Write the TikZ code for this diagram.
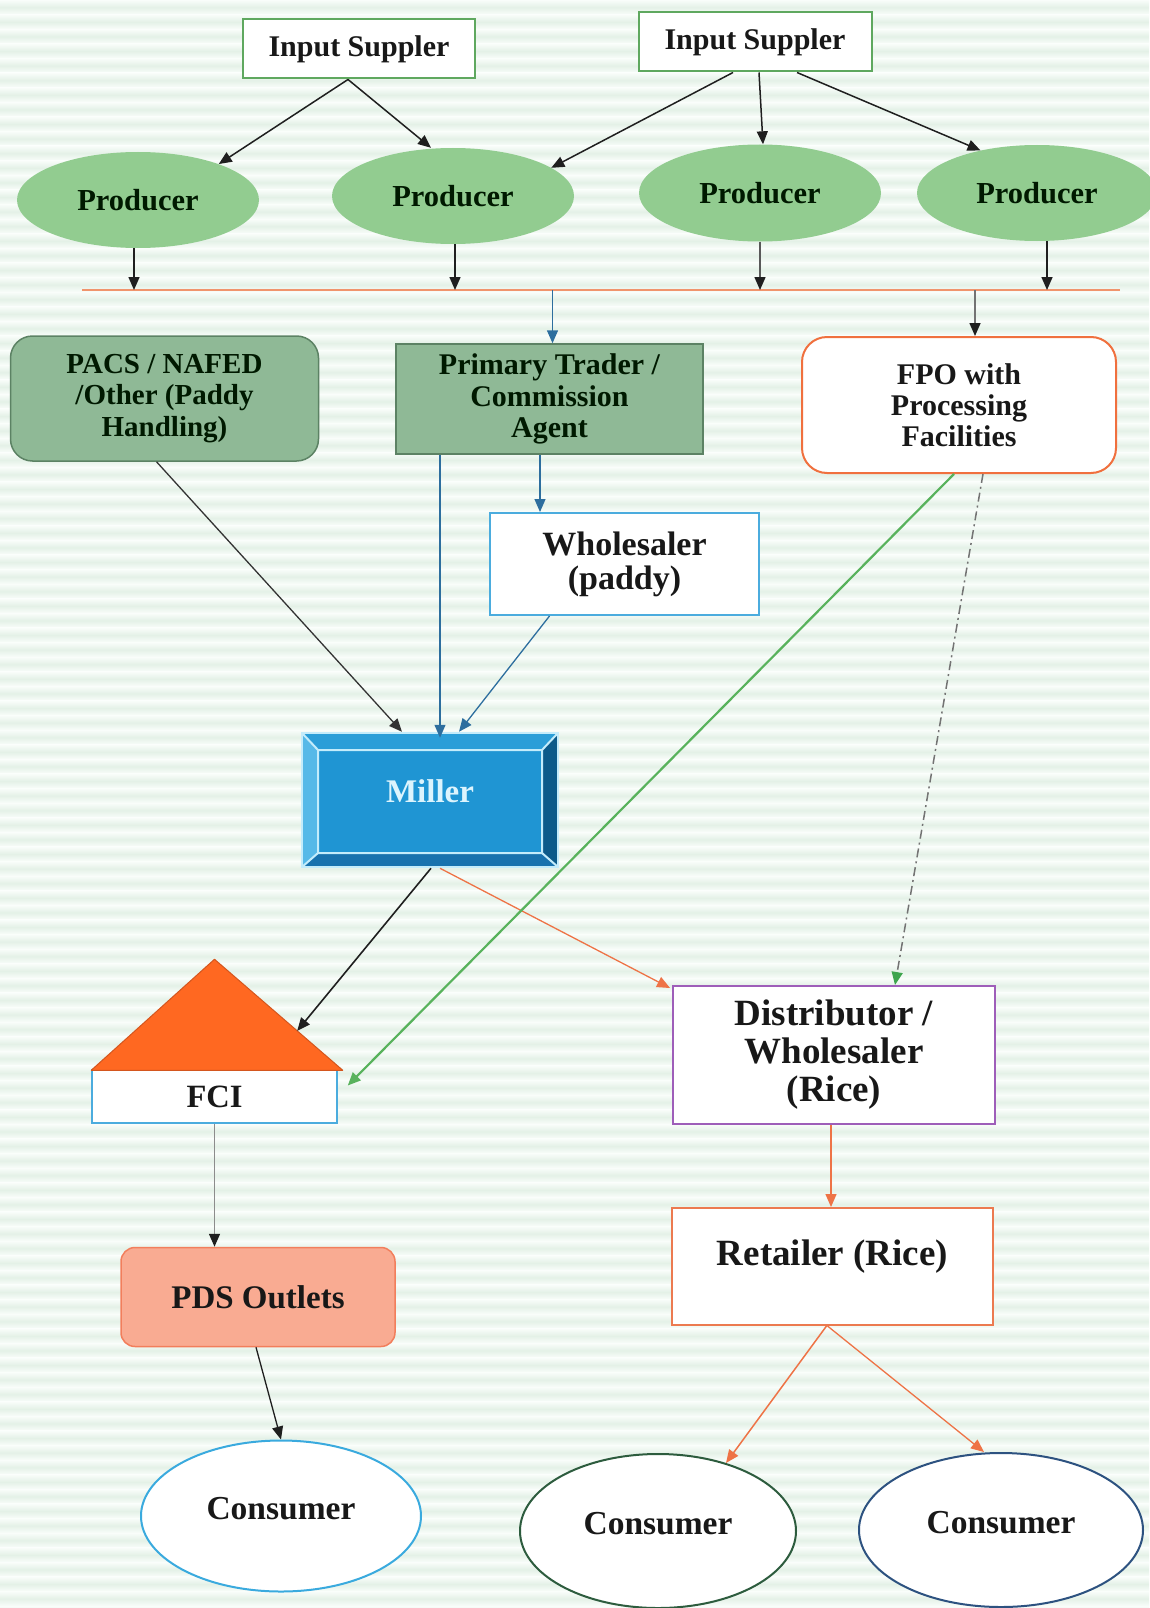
\documentclass[tikz,border=0pt]{standalone}
\usepackage{fontspec}
\setmainfont{Liberation Serif}
\usetikzlibrary{arrows.meta,calc,shapes.geometric}

\newcommand{\fsz}[2]{\fontsize{#1}{#2}\selectfont\bfseries}

\definecolor{bgstripe}{RGB}{228,241,231}
\definecolor{bgbase}{RGB}{249,253,250}
\definecolor{isgreen}{RGB}{95,168,95}
\definecolor{prodfill}{RGB}{146,204,144}
\definecolor{pacsfill}{RGB}{143,185,150}
\definecolor{pacsline}{RGB}{92,130,100}
\definecolor{fpoline}{RGB}{240,112,62}
\definecolor{skyline}{RGB}{75,172,222}
\definecolor{flowblue}{RGB}{45,110,158}
\definecolor{floworange}{RGB}{238,115,70}
\definecolor{flowgreen}{RGB}{88,178,92}
\definecolor{tipgreen}{RGB}{62,165,78}
\definecolor{roof}{RGB}{255,104,33}
\definecolor{roofedge}{RGB}{212,86,30}
\definecolor{pdsfill}{RGB}{249,171,146}
\definecolor{pdsline}{RGB}{242,126,92}
\definecolor{distline}{RGB}{158,94,185}
\definecolor{retline}{RGB}{236,122,80}
\definecolor{cone}{RGB}{58,170,222}
\definecolor{ctwo}{RGB}{45,92,62}
\definecolor{cthree}{RGB}{45,82,128}
\definecolor{hline}{RGB}{240,148,108}
\definecolor{mface}{RGB}{31,149,211}
\definecolor{mtop}{RGB}{43,158,216}
\definecolor{mleft}{RGB}{86,185,232}
\definecolor{mright}{RGB}{12,90,138}
\definecolor{mbottom}{RGB}{24,114,174}
\definecolor{mlight}{RGB}{196,236,251}
\definecolor{inktext}{RGB}{24,24,24}

\tikzset{
  arr/.style={-{Triangle[length=13pt,width=11pt]}, line width=1.5pt, draw=black!88},
  blackhead/.style={-{Triangle[length=13pt,width=11pt,color=black!88]}},
  txt/.style={align=center, inner sep=0pt, text=inktext},
  isbox/.style={txt, draw=isgreen, line width=2pt, fill=white,
    minimum width=232, minimum height=59, font=\fsz{30}{32}},
  prod/.style={txt, ellipse, fill=prodfill, draw=none,
    minimum width=242, minimum height=96, font=\fsz{30.5}{32}, text=black!90!green},
  greenbox/.style={txt, fill=pacsfill, draw=pacsline, line width=1.5pt, text=black!90!green},
  whitebox/.style={txt, fill=white, line width=2pt},
  consumer/.style={txt, ellipse, fill=white, line width=2pt,
    font=\fsz{33.5}{35}, text depth=16pt},
}

\begin{document}
\begin{tikzpicture}[x=1pt,y=-1pt]
\useasboundingbox (0,0) rectangle (1149,1608);

% striped backdrop
\fill[bgbase] (0,0) rectangle (1149,1608);
\foreach \i in {0,...,110}{
  \shade[top color=bgbase, bottom color=bgbase, middle color=bgstripe]
    (0,{\i*14.6}) rectangle (1149,{\i*14.6+14.6});
}

% suppliers and producers
\node[isbox] (IS1) at (359,49) {Input Suppler};
\node[isbox, minimum width=233] (IS2) at (755,42) {Input Suppler};

\node[prod] (P1) at (138,200) {Producer};
\node[prod] (P2) at (453,196) {Producer};
\node[prod, minimum height=97] (P3) at (760,193) {Producer};
\node[prod, minimum width=240] (P4) at (1037,193) {Producer};

% collecting line
\coordinate (hl) at (82,290);
\coordinate (hr) at (1120,290);
\coordinate (hf) at (975,290);
\draw[hline, line width=2pt] (hl) -- (hr);

% first stage buyers
\node[greenbox, rounded corners=22, minimum width=308, minimum height=125,
  font=\fsz{29}{31.5}] (PACS) at (164.5,398.5) {PACS / NAFED\\/Other (Paddy\\Handling)};
\node[greenbox, minimum width=307, minimum height=110,
  font=\fsz{30}{31.5}] (Prim) at (549.5,399) {Primary Trader /\\Commission\\Agent};
\node[whitebox, draw=fpoline, rounded corners=25, minimum width=314, minimum height=136,
  font=\fsz{30}{31}] (FPO) at (959,405) {FPO with\\Processing\\Facilities};
\node[whitebox, draw=skyline, minimum width=269, minimum height=102,
  font=\fsz{34}{34}] (Wp) at (624.5,564) {Wholesaler\\(paddy)};

% bevelled miller block
\node[txt, draw=mlight, line width=2.5pt, minimum width=256, minimum height=134,
  font=\fsz{33}{34}, text=mlight!60!white, text depth=18pt,
  path picture={
    \coordinate (m1) at (path picture bounding box.north west);
    \coordinate (m2) at (path picture bounding box.north east);
    \coordinate (m3) at (path picture bounding box.south east);
    \coordinate (m4) at (path picture bounding box.south west);
    \coordinate (n1) at ($(m1)+(16,17)$);
    \coordinate (n2) at ($(m2)+(-16,17)$);
    \coordinate (n3) at ($(m3)+(-16,-14)$);
    \coordinate (n4) at ($(m4)+(16,-14)$);
    \fill[mtop] (m1) -- (m2) -- (n2) -- (n1) -- cycle;
    \fill[mright] (m2) -- (m3) -- (n3) -- (n2) -- cycle;
    \fill[mbottom] (m3) -- (m4) -- (n4) -- (n3) -- cycle;
    \fill[mleft] (m4) -- (m1) -- (n1) -- (n4) -- cycle;
    \fill[mface] (n1) rectangle (n3);
    \draw[mlight, line width=2pt] (n1) rectangle (n3)
      (m1) -- (n1) (m2) -- (n2) (m3) -- (n3) (m4) -- (n4);
  }] (Mil) at (430,800) {Miller};

% FCI store with its roof
\node[whitebox, draw=skyline, line width=1.5pt, minimum width=245, minimum height=53,
  font=\fsz{32.5}{34}] (FCI) at (214.5,1096.5) {FCI};
\coordinate (rfL) at ([yshift=-1]FCI.north west);
\coordinate (rfR) at ([xshift=5,yshift=-1]FCI.north east);
\coordinate (rfA) at ($(FCI.north)+(0,-110)$);
\fill[roof, draw=roofedge, line width=1pt, line join=round] (rfA) -- (rfR) -- (rfL) -- cycle;
\coordinate (rfHit) at ($(rfA)!0.645!(rfR)$);

\node[txt, fill=pdsfill, draw=pdsline, line width=1.5pt, rounded corners=14,
  minimum width=274, minimum height=99, font=\fsz{33}{34}] (PDS) at (258,1297) {PDS Outlets};

\node[whitebox, draw=distline, minimum width=322, minimum height=138,
  font=\fsz{37}{38}] (Dist) at (834,1055) {Distributor /\\Wholesaler\\(Rice)};
\node[whitebox, draw=retline, minimum width=321, minimum height=117,
  font=\fsz{37}{38}, text depth=28pt] (Ret) at (832.5,1266.5) {Retailer (Rice)};

\node[consumer, draw=cone, minimum width=280, minimum height=151] (C1) at (281,1516) {Consumer};
\node[consumer, draw=ctwo, minimum width=276, minimum height=154] (C2) at (658,1531) {Consumer};
\node[consumer, draw=cthree, minimum width=284, minimum height=154] (C3) at (1001,1530) {Consumer};

% supplier links
\draw[arr] ([xshift=-11]IS1.south) -- (P1.24);
\draw[arr] ([xshift=-11]IS1.south) -- ([xshift=-22]P2.north);
\draw[arr] ([xshift=-22]IS2.south) -- (P2.16);
\draw[arr] ([xshift=4]IS2.south) -- ([xshift=3]P3.north);
\draw[arr] ([xshift=42]IS2.south) -- (P4.143);

% producers onto the collecting line
\draw[arr] ([xshift=-4]P1.south) -- ([xshift=-4]P1.south |- hl);
\draw[arr] ([xshift=2]P2.south) -- ([xshift=2]P2.south |- hl);
\draw[arr, draw=black!65, blackhead] (P3.south) -- (P3.south |- hl);
\draw[arr] ([xshift=10]P4.south) -- ([xshift=10]P4.south |- hl);

% from the line to the buyers
\draw[arr, draw=flowblue] ([xshift=3]Prim.north |- hl) -- ([xshift=3]Prim.north);
\draw[arr, draw=black!55, blackhead] (hf) -- (hf |- FPO.north);

% paddy flows into the miller
\draw[arr, draw=black!80, line width=1.3pt] ([xshift=-8]PACS.south) -- ([xshift=-28]Mil.north);
\draw[arr, draw=flowblue, line width=1.3pt] ([xshift=-109.5]Prim.south) -- ([xshift=10,yshift=-6]Mil.north);
\draw[arr, draw=flowblue, line width=1.3pt] ([xshift=-9.5]Prim.south) -- ([xshift=-9.5]Prim.south |- Wp.north);
\draw[arr, draw=flowblue, line width=1.3pt] ([xshift=-75]Wp.south) -- ([xshift=29]Mil.north);

% rice flows out of the miller and the FPO
\draw[arr, line width=1.6pt] ([xshift=1]Mil.south) -- (rfHit);
\draw[arr, draw=floworange, line width=1.3pt] ([xshift=10]Mil.south) -- ([xshift=-2,yshift=-3]Dist.north west);
\draw[arr, draw=flowgreen, line width=2.2pt] ([xshift=-5]FPO.south) -- ([xshift=10,yshift=11]FCI.east);
\draw[arr, draw=black!55, line width=1.5pt, dash pattern=on 9pt off 4pt on 2pt off 4pt,
  -{Triangle[length=13pt,width=11pt,color=tipgreen]}] ([xshift=24]FPO.south) -- ([xshift=61]Dist.north);

% public distribution branch
\draw[arr, draw=black!45, blackhead] (FCI.south) -- (FCI.south |- PDS.north);
\draw[arr, line width=1.3pt] ([xshift=-2]PDS.south) -- (C1.north);

% market branch
\draw[arr, draw=floworange, line width=1.3pt] ([xshift=-3]Dist.south) -- ([xshift=-3]Dist.south |- Ret.north);
\draw[arr, draw=floworange, line width=1.5pt] ([xshift=-6]Ret.south) -- (C2.45);
\draw[arr, draw=floworange, line width=1.3pt] ([xshift=-5]Ret.south) -- ([xshift=-17]C3.north);

\end{tikzpicture}
\end{document}
